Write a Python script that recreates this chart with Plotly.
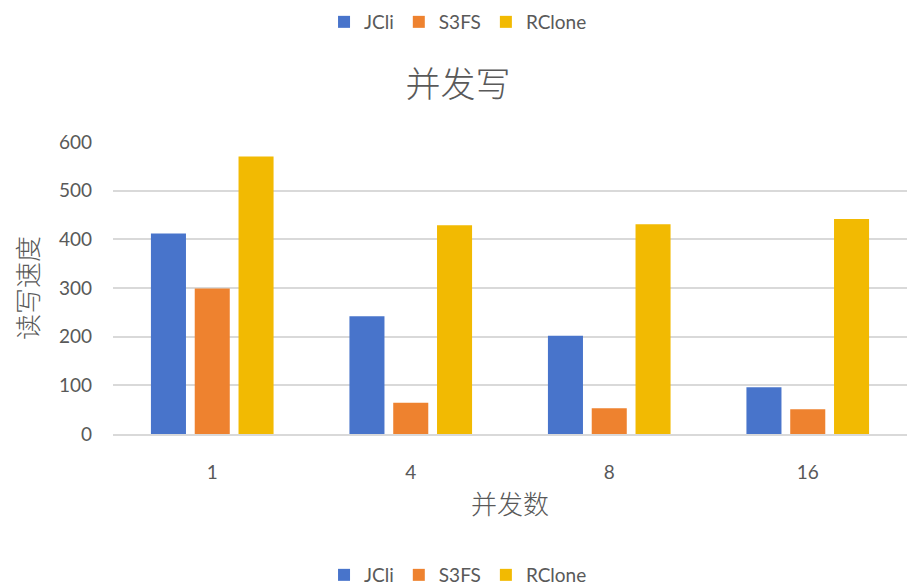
import plotly.graph_objects as go

# 并发写 throughput by concurrency level
categories = ["1", "4", "8", "16"]
series_names = ["JCli", "S3FS", "RClone"]
jcli = [412, 242, 202, 96]
s3fs = [299, 64, 53, 51]
rclone = [570, 429, 431, 442]
y_ticks = [0, 100, 200, 300, 400, 500, 600]

colors = ["#4874CB", "#EE822F", "#F2BA02"]
values = [jcli, s3fs, rclone]

text_color = "#595959"
latin = "Lato, 'Noto Sans CJK SC', sans-serif"
cjk = "'Noto Sans CJK SC', sans-serif"

fig = go.Figure()
for i, (name, vals) in enumerate(zip(series_names, values)):
    fig.add_trace(go.Bar(
        x=categories, y=vals, name=name,
        marker=dict(color=colors[i], line=dict(width=0)),
        offsetgroup=str(i), legend="legend",
    ))
# same series repeated in the lower legend (no data drawn)
for i, name in enumerate(series_names):
    fig.add_trace(go.Bar(
        x=[categories[0]], y=[None], name=name,
        marker=dict(color=colors[i], line=dict(width=0)),
        offsetgroup=str(i), legend="legend2", hoverinfo="skip",
    ))

legend_style = dict(
    orientation="h", xref="container", yref="container",
    x=0.505, xanchor="center",
    font=dict(family=latin, size=19, color=text_color),
    itemwidth=30, bgcolor="rgba(0,0,0,0)", traceorder="normal",
)

fig.update_layout(
    width=907, height=586,
    margin=dict(l=113, r=0, t=142, b=152),
    paper_bgcolor="white", plot_bgcolor="white",
    barmode="group", bargap=0.338, bargroupgap=0.2,
    title=dict(text="并发写", x=0.505, xanchor="center", xref="container",
               y=1 - 85 / 586, yanchor="middle", yref="container",
               font=dict(family=cjk, size=35, color=text_color, weight=300)),
    legend=dict(**legend_style, y=1 - 22 / 586, yanchor="middle"),
    legend2=dict(**legend_style, y=1 - 575 / 586, yanchor="middle"),
    xaxis=dict(
        type="category", categoryorder="array", categoryarray=categories,
        showline=True, linecolor="#D9D9D9", linewidth=1.5,
        ticks="", tickfont=dict(family=latin, size=19, color=text_color),
        ticklabelstandoff=20,
        title=dict(text="并发数", font=dict(family=cjk, size=26, color=text_color, weight=300),
                   standoff=14),
    ),
    yaxis=dict(
        range=[0, 600], tickvals=y_ticks, showgrid=True, gridcolor="#D9D9D9", gridwidth=1.5,
        zeroline=False, ticks="", tickfont=dict(family=latin, size=19, color=text_color),
        ticklabelstandoff=20,
        title=dict(text="读写速度", font=dict(family=cjk, size=26, color=text_color, weight=300),
                   standoff=12),
    ),
    showlegend=True,
)

fig.write_html("out.html")
